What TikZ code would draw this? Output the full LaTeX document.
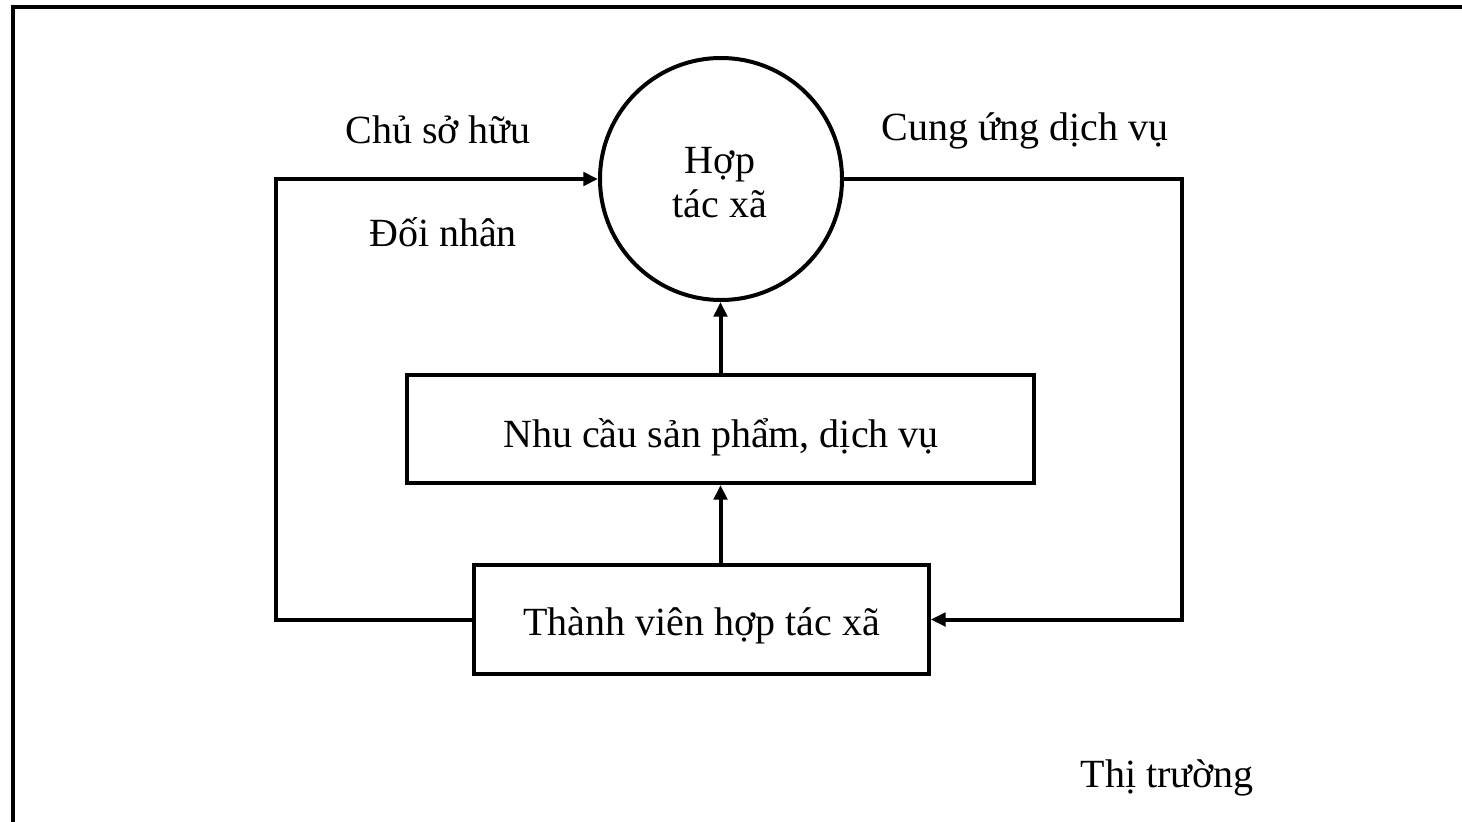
\documentclass[tikz,border=0pt]{standalone}
\usepackage{fontspec}
\setmainfont{Liberation Serif}
\usetikzlibrary{arrows.meta}
\begin{document}
\begin{tikzpicture}[x=0.75pt,y=-0.75pt,
  every node/.style={font=\fontsize{30}{36}\selectfont},
  lbl/.style={anchor=base,inner sep=0pt},
  boxnode/.style={draw,line width=3pt,rectangle,inner sep=0pt},
  conn/.style={line width=3pt},
  arr/.style={conn,-{Triangle[length=11pt,width=10pt]}}]
\useasboundingbox (0,0) rectangle (1462,821);
\clip (0,0) rectangle (1462,821);
\draw[line width=3.5pt] (13,7) rectangle (1480,850);
\node[draw,circle,line width=3pt,minimum size=181.5pt,inner sep=0pt] (htx) at (721,179) {};
\node[lbl] (t1) at (720,173) {Hợp};
\node[lbl] (t2) at (720,217) {tác xã};
\node[boxnode,minimum width=470pt,minimum height=81pt] (nc) at (720.5,429) {};
\node[lbl] (nct) at (721,447) {Nhu cầu sản phẩm, dịch vụ};
\node[boxnode,minimum width=341pt,minimum height=81.5pt] (tv) at (701.5,619.5) {};
\node[lbl] (tvt) at (701.5,635) {Thành viên hợp tác xã};
\node[lbl] (csh) at (438,143) {Chủ sở hữu};
\node[lbl] (dn) at (443,246) {Đối nhân};
\node[lbl] (cu) at (1025,140) {Cung ứng dịch vụ};
\node[lbl] (tt) at (1167,787) {Thị trường};
\coordinate (L) at (276,619.5);
\coordinate (R) at (1182,179);
\draw[arr] (tv.west) -- (L) |- (htx.west);
\draw[arr] (htx.east) -- (R) |- (tv.east);
\draw[arr] (nc.south |- tv.north) -- (nc.south);
\draw[arr] (nc.north) -- (nc.north |- htx.south);
\end{tikzpicture}
\end{document}
